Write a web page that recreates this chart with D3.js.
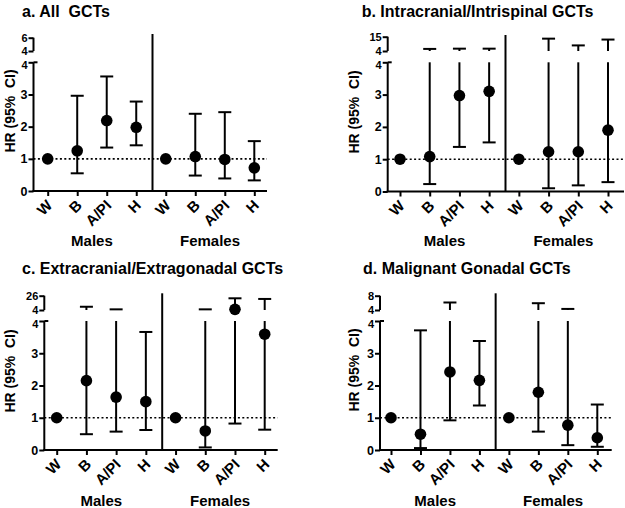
<!DOCTYPE html>
<html><head><meta charset="utf-8">
<script src="https://cdn.jsdelivr.net/npm/d3@7"></script>
<style>
html,body{margin:0;padding:0;background:#fff;}
text{font-family:"Liberation Sans",Arial,sans-serif;font-weight:bold;fill:#000;}
</style></head>
<body>
<svg id="chart" width="625" height="508"></svg>
<script>
// ---- data ----
const categories = ["W","B","A/PI","H","W","B","A/PI","H"];
const groups = ["Males","Females"];
const titles = ["a. All  GCTs","b. Intracranial/Intrispinal GCTs","c. Extracranial/Extragonadal GCTs","d. Malignant Gonadal GCTs"];
const lowerTicks = [0,1,2,3,4];
const breakTops = [6,15,26,8];
const yLabel = "HR (95%  CI)";

const hrA = [1,1.25,2.19,1.98, 1,1.07,0.98,0.72];
const loA = [null,0.55,1.35,1.42, null,0.48,0.39,0.33];
const hiA = [null,2.96,3.56,2.78, null,2.40,2.45,1.55];

const hrB = [1,1.08,2.97,3.10, 1,1.23,1.23,1.90];
const loB = [null,0.23,1.38,1.52, null,0.10,0.19,0.29];
const hiB = [null,5.6,5.8,5.8, null,13.5,8.3,12.8];

const hrC = [1,2.15,1.64,1.50, 1,0.59,5.0,3.59];
const loC = [null,0.49,0.57,0.62, null,0.08,0.82,0.63];
const hiC = [null,9.0,5.0,3.66, null,5.0,22,21];

const hrD = [1,0.49,2.42,2.16, 1,1.79,0.77,0.38];
const loD = [null,0.06,0.92,1.38, null,0.57,0.15,0.10];
const hiD = [null,3.71,6.1,3.38, null,5.9,4.3,1.41];

const panelData = [
  {hr:hrA, lo:loA, hi:hiA},
  {hr:hrB, lo:loB, hi:hiB},
  {hr:hrC, lo:loC, hi:hiC},
  {hr:hrD, lo:loD, hi:hiD}
];

// ---- layout ----
const layout = [
  {ax:33.5, x0:47.7, x1:254.3, xEnd:267, y0:191, y4:62.3, yU4:51, yTop:37.7, divTop:34, titleX:22, titleY:16.5, labX:10, labY:111, grpY:246},
  {ax:387.7, x0:400, x1:608, xEnd:624, y0:191.5, y4:62.3, yU4:51, yTop:36.7, divTop:35, titleX:361.7, titleY:16.5, labX:354, labY:112, grpY:246},
  {ax:44.3, x0:56.7, x1:264.7, xEnd:277.7, y0:450, y4:321, yU4:310, yTop:295.7, divTop:293.3, titleX:22, titleY:274, labX:10, labY:371, grpY:506},
  {ax:380, x0:391, x1:597.3, xEnd:611.7, y0:450, y4:321, yU4:310, yTop:295.7, divTop:293.3, titleX:363, titleY:274, labX:354, labY:370, grpY:506}
];

const svg = d3.select("#chart");
const SW = 2;

layout.forEach((L, pi) => {
  const d = panelData[pi];
  const g = svg.append("g");
  const top = breakTops[pi];
  const yLow = d3.scaleLinear().domain([0,4]).range([L.y0, L.y4]);
  const yUp = d3.scaleLinear().domain([4, top]).range([L.yU4, L.yTop]);
  const yv = v => v <= 4 ? yLow(v) : yUp(v);
  const x = d3.scalePoint().domain(d3.range(categories.length)).range([L.x0, L.x1]);

  // title
  g.append("text").attr("x", L.titleX).attr("y", L.titleY)
    .style("font-size","16px").style("white-space","pre").text(titles[pi]);

  // y label
  g.append("text").attr("transform", `translate(${L.labX + 5},${L.labY}) rotate(-90)`)
    .attr("text-anchor","middle").style("font-size","14px").style("white-space","pre").text(yLabel);

  // lower y axis
  const yAxisL = d3.axisLeft(yLow).tickValues(lowerTicks).tickSize(5).tickPadding(1).tickFormat(d3.format("d"));
  const ga = g.append("g").attr("transform", `translate(${L.ax},0)`).call(yAxisL);
  ga.select(".domain").remove();
  ga.append("line").attr("x1",0).attr("x2",0).attr("y1",L.y0).attr("y2",L.y4);
  ga.append("line").attr("x1",0).attr("x2",4).attr("y1",L.y4).attr("y2",L.y4);
  // upper y axis
  const yAxisU = d3.axisLeft(yUp).tickValues([4, top]).tickSize(5).tickPadding(1).tickFormat(d3.format("d"));
  const gu = g.append("g").attr("transform", `translate(${L.ax},0)`).call(yAxisU);
  gu.select(".domain").remove();
  gu.append("line").attr("x1",0).attr("x2",0).attr("y1",L.yU4).attr("y2",L.yTop);
  [ga, gu].forEach(s => {
    s.selectAll("line").attr("stroke","#000").attr("stroke-width",SW);
    s.selectAll("text").style("font-size","12.5px").attr("font-family",null);
  });
  gu.selectAll(".tick text").style("font-size","11px").attr("dy","0.36em");
  ga.selectAll(".tick text").filter(v => v === 4).style("font-size","11px").attr("dy","0.55em");

  // x axis
  const xAxis = d3.axisBottom(x).tickSize(5).tickFormat("");
  const gx = g.append("g").attr("transform", `translate(0,${L.y0})`).call(xAxis);
  gx.select(".domain").remove();
  gx.append("line").attr("x1", L.ax - 1).attr("x2", L.xEnd).attr("y1",0).attr("y2",0);
  gx.selectAll("line").attr("stroke","#000").attr("stroke-width",SW);

  // category labels (rotated 45 degrees)
  g.selectAll("text.cat").data(categories).enter().append("text")
    .attr("class","cat")
    .attr("transform", (c,i) => "translate(" + (x(i)-2) + "," + (L.y0 + 7.7) + ") rotate(-45)")
    .attr("text-anchor","end").attr("dy","0.72em").style("font-size","15px").text(c => c);

  // group labels
  groups.forEach((gr, gi) => {
    const cx = (x(gi*4+1) + x(gi*4+2)) / 2;
    g.append("text").attr("x", cx).attr("y", L.grpY).attr("text-anchor","middle")
      .style("font-size","15px").text(gr);
  });

  // divider
  const divX = (x(3) + x(4)) / 2 + 1.5;
  g.append("line").attr("x1",divX).attr("x2",divX).attr("y1",L.divTop).attr("y2",L.y0)
    .attr("stroke","#000").attr("stroke-width",SW);

  // reference line at HR = 1
  g.append("line").attr("x1",L.ax).attr("x2",L.xEnd).attr("y1",yLow(1)).attr("y2",yLow(1))
    .attr("stroke","#000").attr("stroke-width",1.6).attr("stroke-dasharray","2,2.4");

  // error bars
  const cap = 6.5;
  d.hr.forEach((v, i) => {
    const lo = d.lo[i], hi = d.hi[i];
    if (lo == null || hi == null) return;
    const xi = x(i);
    const segs = [];
    if (hi <= 4) segs.push([yLow(lo), yLow(hi)]);
    else if (lo > 4) segs.push([yUp(lo), yUp(hi)]);
    else { segs.push([yLow(lo), L.y4]); segs.push([L.yU4, yUp(hi)]); }
    segs.forEach(s => g.append("line").attr("x1",xi).attr("x2",xi).attr("y1",s[0]).attr("y2",s[1])
      .attr("stroke","#000").attr("stroke-width",SW));
    [lo, hi].forEach(b => g.append("line").attr("x1",xi-cap).attr("x2",xi+cap).attr("y1",yv(b)).attr("y2",yv(b))
      .attr("stroke","#000").attr("stroke-width",SW));
  });

  // points
  g.selectAll("circle.pt").data(d.hr).enter().append("circle").attr("class","pt")
    .attr("cx",(v,i)=>x(i)).attr("cy",v=>yv(v)).attr("r",5.8).attr("fill","#000");
});
</script>
</body></html>
